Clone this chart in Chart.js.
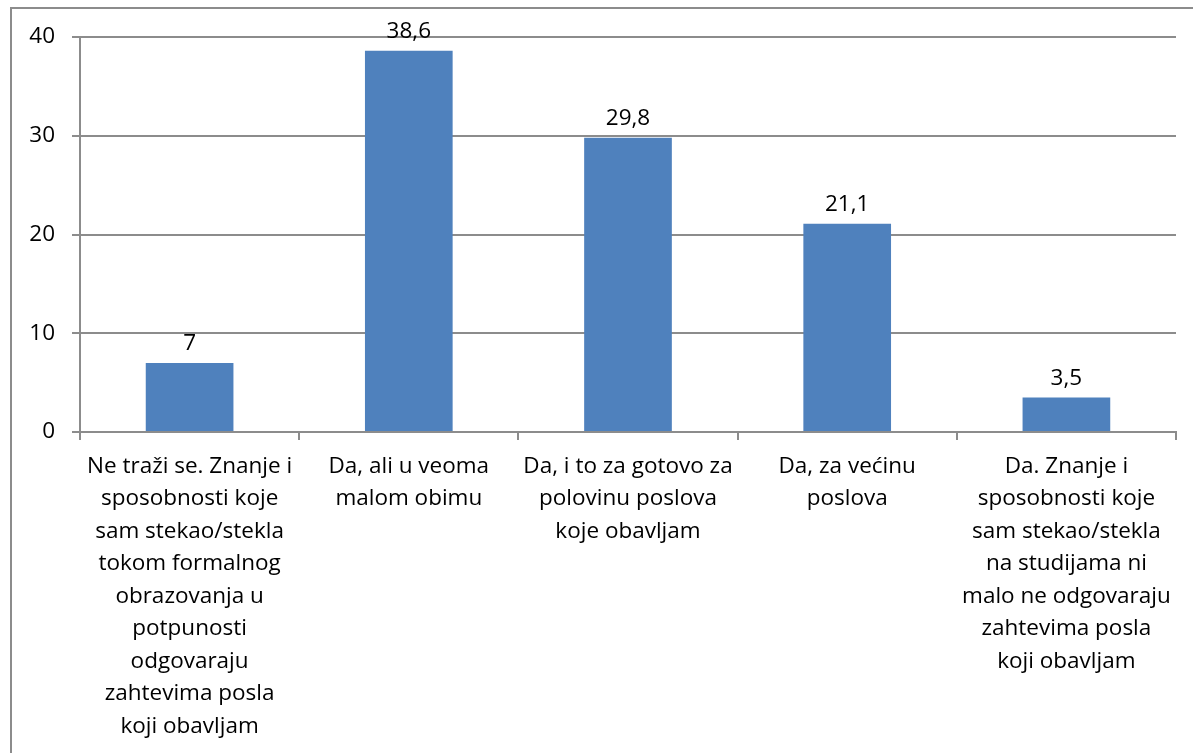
<!DOCTYPE html>
<html>
<head>
<meta charset="utf-8">
<script src="https://cdn.jsdelivr.net/npm/chart.js@4"></script>
<style>
  html, body { margin: 0; padding: 0; overflow: hidden; background: #fff; }
  #frame { position: absolute; left: 10px; top: 7px; width: 1300px; height: 900px; border: 2px solid #8c8c8c; box-sizing: border-box; }
  #wrap { position: absolute; left: 0; top: 0; width: 1193px; height: 753px; }
</style>
</head>
<body>
<div id="frame"></div>
<div id="wrap"><canvas id="chart"></canvas></div>
<script>
const categories = [
  ['Ne traži se. Znanje i', 'sposobnosti koje', 'sam stekao/stekla', 'tokom formalnog', 'obrazovanja u', 'potpunosti', 'odgovaraju', 'zahtevima posla', 'koji obavljam'],
  ['Da, ali u veoma', 'malom obimu'],
  ['Da, i to za gotovo za', 'polovinu poslova', 'koje obavljam'],
  ['Da, za većinu', 'poslova'],
  ['Da. Znanje i', 'sposobnosti koje', 'sam stekao/stekla', 'na studijama ni', 'malo ne odgovaraju', 'zahtevima posla', 'koji obavljam']
];
const values = [7, 38.6, 29.8, 21.1, 3.5];
const yTicks = [0, 10, 20, 30, 40];

const fontFamily = '"Open Sans", Lato, sans-serif';
const fontSize = 22.5;
const gridColor = '#8c8c8c';

// value labels above bars, decimal comma like the original
const valueLabels = {
  id: 'valueLabels',
  afterDatasetsDraw(chart) {
    const ctx = chart.ctx;
    const meta = chart.getDatasetMeta(0);
    ctx.save();
    ctx.font = fontSize + 'px ' + fontFamily;
    ctx.fillStyle = '#000';
    ctx.textAlign = 'center';
    ctx.textBaseline = 'middle';
    meta.data.forEach((bar, i) => {
      ctx.fillText(String(values[i]).replace('.', ','), bar.x, bar.y - 19);
    });
    ctx.restore();
  }
};

new Chart(document.getElementById('chart').getContext('2d'), {
  type: 'bar',
  data: {
    labels: categories,
    datasets: [{
      data: values,
      backgroundColor: '#4f81bd',
      barPercentage: 0.4,
      categoryPercentage: 1
    }]
  },
  options: {
    responsive: true,
    maintainAspectRatio: false,
    animation: false,
    layout: { padding: { left: 0, top: 37, right: 17, bottom: 0 } },
    plugins: {
      legend: { display: false },
      tooltip: { enabled: false }
    },
    scales: {
      x: {
        afterFit: (scale) => { scale.height = 321; },
        grid: { drawOnChartArea: false, drawTicks: true, tickLength: 8, color: gridColor, lineWidth: 2 },
        border: { display: true, color: gridColor, width: 2 },
        ticks: { color: '#000', font: { family: fontFamily, size: fontSize, lineHeight: '32.5px' }, padding: 10, maxRotation: 0, autoSkip: false }
      },
      y: {
        min: 0,
        max: 40,
        afterFit: (scale) => { scale.width = 80; },
        afterBuildTicks: (scale) => { scale.ticks = yTicks.map(v => ({ value: v })); },
        grid: { color: gridColor, lineWidth: 2, tickLength: 8 },
        border: { display: true, color: gridColor, width: 2 },
        ticks: { color: '#000', font: { family: fontFamily, size: fontSize }, padding: 17 }
      }
    }
  },
  plugins: [valueLabels]
});
</script>
</body>
</html>
